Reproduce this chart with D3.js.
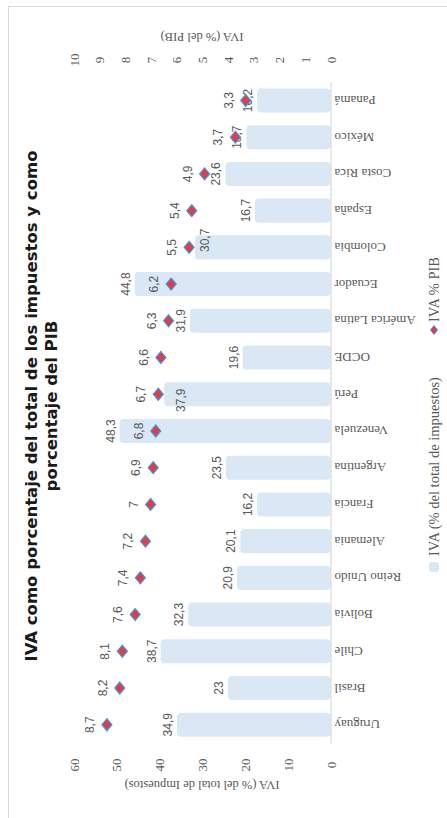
<!DOCTYPE html>
<html><head><meta charset="utf-8">
<script src="https://cdn.jsdelivr.net/npm/d3@7"></script>
<style>body{margin:0;background:#fff}svg{display:block}</style>
</head><body>
<svg id="c" width="447" height="818"></svg>
<script>
const categories = ["Uruguay","Brasil","Chile","Bolivia","Reino Unido","Alemania","Francia","Argentina","Venezuela","Perú","OCDE","América Latina","Ecuador","Colombia","España","Costa Rica","México","Panamá"];
const ivaTotal = [34.9,23,38.7,32.3,20.9,20.1,16.2,23.5,48.3,37.9,19.6,31.9,44.8,30.7,16.7,23.6,18.7,16.2];
const ivaPib = [8.7,8.2,8.1,7.6,7.4,7.2,7,6.9,6.8,6.7,6.6,6.3,6.2,5.5,5.4,4.9,3.7,3.3];
const leftTicks = [0,10,20,30,40,50,60];
const rightTicks = [0,1,2,3,4,5,6,7,8,9,10];
const titleLines = ["IVA como porcentaje del total de los impuestos y como","porcentaje del PIB"];
const leftAxisTitle = "IVA (% del total de Impuestos)";
const rightAxisTitle = "IVA (% del PIB)";
const legendLabels = ["IVA (% del total de impuestos)","IVA % PIB"];
// label nudges (layout only)
const labelNudge = {"Colombia":[19,-7],"Perú":[26,6]};

const fmt = v => String(v).replace(".", ",");
const svg = d3.select("#c");
const BAR = "#dae8f5", RED = "#e23b4a", BLUE = "#3a9ad9", TXT = "#595959";

svg.append("rect").attr("x",8.5).attr("y",6.5).attr("width",600).attr("height",900)
  .attr("fill","none").attr("stroke","#d9d9d9");

const y = d3.scaleBand().domain(categories).range([743.1, 82.1]).paddingInner(0.345).paddingOuter(0.1725);
const xL = d3.scaleLinear().domain([0,60]).range([330.5, 73.5]);
const xR = d3.scaleLinear().domain([0,10]).range([330.5, 73.5]);
const base = xL(0);
const cap = 4;

// bars
svg.append("g").selectAll("rect").data(categories).join("rect")
  .attr("x",(d,i)=>xL(ivaTotal[i]) - cap)
  .attr("width",(d,i)=>base - xL(ivaTotal[i]) + cap)
  .attr("y",d=>y(d)).attr("height",y.bandwidth())
  .attr("rx",4).attr("fill",BAR);

// category axis
const ca = svg.append("g").attr("transform",`translate(${base},0)`)
  .call(d3.axisRight(y).tickSize(0).tickPadding(0));
ca.select(".domain").attr("stroke","#d9d9d9").attr("stroke-width",1.2);
ca.selectAll("text").attr("x",0).attr("dy",null).attr("text-anchor","end")
  .attr("dominant-baseline","central")
  .attr("transform","translate(4,0) rotate(180)")
  .attr("font-family","Liberation Serif").attr("font-size",13).attr("fill",TXT);

// bottom axis (left in original)
const ba = svg.append("g").attr("transform","translate(0,765)")
  .call(d3.axisBottom(xL).tickValues(leftTicks).tickSize(0));
ba.select(".domain").remove();
ba.selectAll("text").attr("y",0).attr("dy",null).attr("transform","rotate(-90)")
  .attr("text-anchor","middle").attr("dominant-baseline","central")
  .attr("font-family","Liberation Serif").attr("font-size",13).attr("fill",TXT);

// top axis (right in original)
const ta = svg.append("g").attr("transform","translate(0,60)")
  .call(d3.axisTop(xR).tickValues(rightTicks).tickSize(0));
ta.select(".domain").remove();
ta.selectAll("text").attr("y",0).attr("dy",null).attr("transform","rotate(-90)")
  .attr("text-anchor","middle").attr("dominant-baseline","central")
  .attr("font-family","Liberation Serif").attr("font-size",13).attr("fill",TXT);

// axis titles
const mid = (xL(0)+xL(60))/2;
svg.append("text").attr("transform",`translate(${mid},785) rotate(180)`)
  .attr("text-anchor","middle").attr("dominant-baseline","central")
  .attr("font-family","Liberation Serif").attr("font-size",12.5).attr("fill",TXT).text(leftAxisTitle);
svg.append("text").attr("transform",`translate(${mid},37) rotate(180)`)
  .attr("text-anchor","middle").attr("dominant-baseline","central")
  .attr("font-family","Liberation Serif").attr("font-size",12.5).attr("fill",TXT).text(rightAxisTitle);

// bar labels
svg.append("g").selectAll("text").data(categories).join("text")
  .attr("transform",(d,i)=>{
    const n = labelNudge[d] || [0,0];
    return `translate(${xL(ivaTotal[i]) - cap - 9 + n[0]},${y(d)+y.bandwidth()/2 + n[1]}) rotate(-90)`;})
  .attr("text-anchor","middle").attr("dominant-baseline","central")
  .attr("font-family","Liberation Sans").attr("font-size",12).attr("fill",TXT)
  .text((d,i)=>fmt(ivaTotal[i]));

// diamonds
const diamond = "M0,-6L5,0L0,6L-5,0Z";
svg.append("g").selectAll("path").data(categories).join("path")
  .attr("d",diamond)
  .attr("transform",(d,i)=>`translate(${xR(ivaPib[i])},${y(d)+y.bandwidth()/2})`)
  .attr("fill",RED).attr("stroke",BLUE).attr("stroke-width",1.2);

// diamond labels
svg.append("g").selectAll("text").data(categories).join("text")
  .attr("transform",(d,i)=>`translate(${xR(ivaPib[i]) - 17},${y(d)+y.bandwidth()/2}) rotate(-90)`)
  .attr("text-anchor","middle").attr("dominant-baseline","central")
  .attr("font-family","Liberation Sans").attr("font-size",12).attr("fill",TXT)
  .text((d,i)=>fmt(ivaPib[i]));

// title
const midY = 406;
titleLines.forEach((t,k)=>{
  svg.append("text").attr("transform",`translate(${37 + k*20},${midY}) rotate(-90)`)
    .attr("text-anchor","middle")
    .attr("font-family","DejaVu Sans").attr("font-weight","bold").attr("font-size",16.5)
    .attr("fill","#1a1a1a").text(t);
});

// legend
const lg = svg.append("g");
lg.append("rect").attr("x",429).attr("y",562).attr("width",10).attr("height",10).attr("rx",3).attr("fill",BAR);
lg.append("text").attr("transform","translate(434,556) rotate(-90)")
  .attr("dominant-baseline","central").attr("font-family","Liberation Serif")
  .attr("font-size",14.5).attr("fill",TXT).text(legendLabels[0]);
lg.append("path").attr("d","M0,-4.5L3.5,0L0,4.5L-3.5,0Z").attr("transform","translate(434,330)")
  .attr("fill",RED).attr("stroke",BLUE).attr("stroke-width",1);
lg.append("text").attr("transform","translate(434,322) rotate(-90)")
  .attr("dominant-baseline","central").attr("font-family","Liberation Serif")
  .attr("font-size",14.5).attr("fill",TXT).text(legendLabels[1]);
</script>
</body></html>
